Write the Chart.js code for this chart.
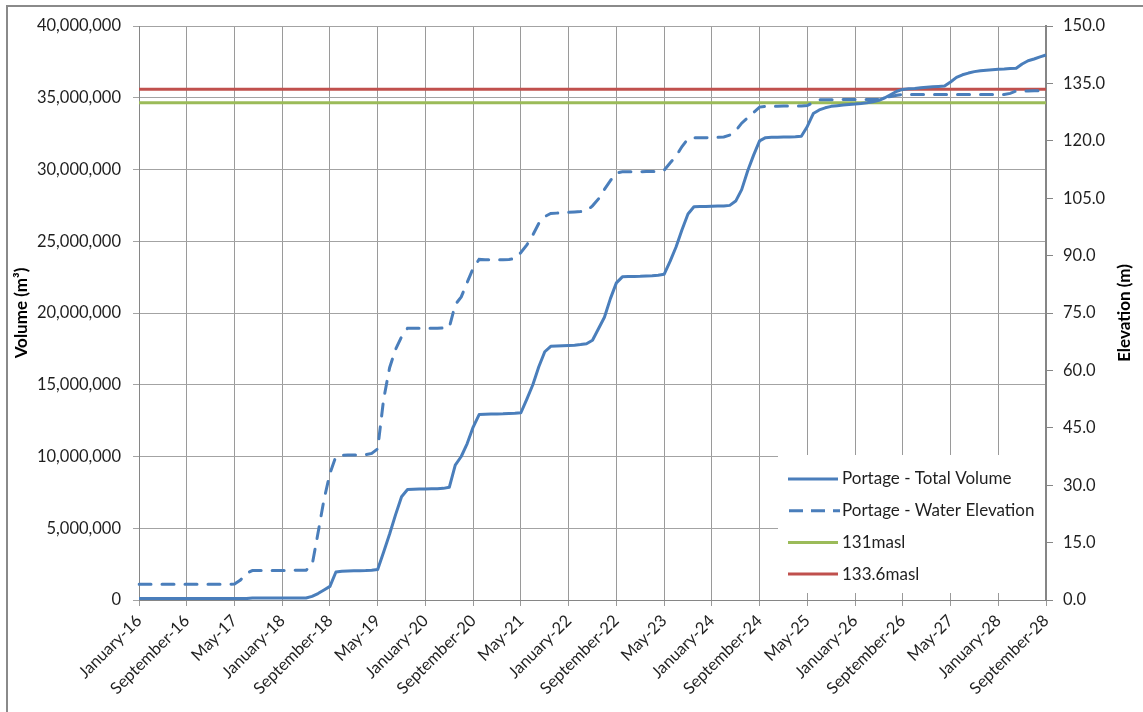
<!DOCTYPE html>
<html>
<head>
<meta charset="utf-8">
<title>Portage - Total Volume and Water Elevation</title>
<script src="https://cdn.jsdelivr.net/npm/chart.js@4/dist/chart.umd.min.js"></script>
<style>
  html, body { margin: 0; padding: 0; background: #ffffff; }
  canvas { display: block; }
</style>
</head>
<body>
<canvas id="chart" width="1143" height="712"></canvas>
<script>
// Monthly categories, January 2016 to September 2028
const monthNames = ['January', 'February', 'March', 'April', 'May', 'June',
  'July', 'August', 'September', 'October', 'November', 'December'];
const categories = [];
for (let yr = 16; yr <= 28; yr++) {
  for (let m = 0; m < 12; m++) {
    if (yr === 28 && m > 8) break;
    categories.push(monthNames[m] + '-' + yr);
  }
}

// Labelled months on the x axis (every eighth month)
const tickLabels = [
  'January-16', 'September-16', 'May-17', 'January-18', 'September-18',
  'May-19', 'January-20', 'September-20', 'May-21', 'January-22',
  'September-22', 'May-23', 'January-24', 'September-24', 'May-25',
  'January-26', 'September-26', 'May-27', 'January-28', 'September-28'
];

// Portage - Total Volume, millions of m³, one value per month
const totalVolumeMillions = [
  0.10, 0.10, 0.10, 0.10, 0.10, 0.10, 0.10, 0.10, 0.10, 0.10,
  0.10, 0.10, 0.10, 0.10, 0.10, 0.10, 0.10, 0.10, 0.10, 0.14,
  0.14, 0.14, 0.14, 0.14, 0.14, 0.14, 0.14, 0.14, 0.14, 0.25,
  0.45, 0.70, 0.95, 1.95, 2.00, 2.02, 2.03, 2.04, 2.05, 2.07,
  2.12, 3.35, 4.60, 5.95, 7.20, 7.70, 7.72, 7.73, 7.74, 7.75,
  7.76, 7.78, 7.85, 9.40, 10.00, 10.90, 12.05, 12.92, 12.95, 12.96,
  12.97, 12.98, 13.00, 13.02, 13.05, 14.00, 15.00, 16.25, 17.30, 17.68,
  17.70, 17.72, 17.74, 17.76, 17.80, 17.86, 18.10, 18.90, 19.70, 21.00,
  22.10, 22.52, 22.54, 22.55, 22.56, 22.58, 22.60, 22.63, 22.70, 23.60,
  24.60, 25.80, 26.90, 27.40, 27.42, 27.43, 27.44, 27.45, 27.46, 27.50,
  27.80, 28.60, 29.90, 31.00, 32.00, 32.22, 32.24, 32.25, 32.26, 32.27,
  32.28, 32.32, 33.00, 33.90, 34.15, 34.30, 34.40, 34.45, 34.50, 34.53,
  34.56, 34.60, 34.65, 34.72, 34.82, 35.00, 35.22, 35.45, 35.58, 35.62,
  35.65, 35.70, 35.73, 35.76, 35.79, 35.82, 36.10, 36.42, 36.60, 36.72,
  36.82, 36.88, 36.92, 36.95, 36.98, 37.00, 37.03, 37.05, 37.35, 37.58,
  37.70, 37.85, 37.98
];

// Portage - Water Elevation, m, one value per month
const waterElevation = [
  4.1, 4.1, 4.1, 4.1, 4.1, 4.1, 4.1, 4.1, 4.1, 4.1,
  4.1, 4.1, 4.1, 4.1, 4.1, 4.1, 4.2, 5.2, 7.0, 7.7,
  7.7, 7.7, 7.7, 7.7, 7.7, 7.7, 7.75, 7.8, 7.8, 9.0,
  17.5, 26.2, 33.1, 37.5, 37.8, 37.9, 37.9, 37.9, 38.0, 38.3,
  39.5, 52.5, 60.7, 65.5, 68.8, 71.0, 71.0, 71.0, 71.0, 71.0,
  71.0, 71.1, 71.2, 77.2, 79.2, 83.0, 86.7, 89.0, 88.9, 88.9,
  88.9, 88.9, 89.0, 89.2, 90.8, 92.8, 95.4, 98.4, 100.2, 101.0,
  101.1, 101.2, 101.3, 101.4, 101.5, 101.7, 103.0, 104.8, 107.3, 109.6,
  111.6, 111.9, 111.9, 111.9, 111.9, 112.0, 112.0, 112.0, 112.3, 114.2,
  116.0, 118.5, 120.5, 120.8, 120.8, 120.8, 120.9, 120.9, 121.0, 121.5,
  122.6, 124.6, 126.0, 127.4, 128.8, 129.0, 129.0, 129.0, 129.1, 129.1,
  129.1, 129.1, 129.2, 130.0, 130.7, 130.7, 130.7, 130.7, 130.8, 130.8,
  130.8, 130.8, 130.8, 130.8, 130.8, 131.3, 131.6, 131.9, 132.1, 132.1,
  132.1, 132.1, 132.1, 132.1, 132.1, 132.1, 132.1, 132.1, 132.1, 132.1,
  132.1, 132.1, 132.1, 132.1, 132.1, 132.1, 132.4, 133.0, 133.0, 133.0,
  133.1, 133.1, 133.1
];

// Storage volume (m³) at the two reference water levels
const volumeAt131masl = 34650000;
const volumeAt133_6masl = 35600000;

const volumeTicks = [0, 5000000, 10000000, 15000000, 20000000, 25000000, 30000000, 35000000, 40000000];
const elevationTicks = [0, 15, 30, 45, 60, 75, 90, 105, 120, 135, 150];

const volumeTitle = 'Volume (m³)';
const elevationTitle = 'Elevation (m)';

const BLUE = '#4a7ebb';
const GREEN = '#9bbb59';
const RED = '#c0504d';
const GRID = '#a3a3a3';
const AXIS = '#868686';
const TEXT = '#1f1f1f';
const FONT = 'Lato, "Open Sans", "DejaVu Sans", sans-serif';
const TICK_SIZE = 16.5;

const firstCat = categories[0];
const lastCat = categories[categories.length - 1];

// Outer frame of the chart
const framePlugin = {
  id: 'frame',
  beforeDraw(chart) {
    const ctx = chart.ctx;
    ctx.save();
    ctx.fillStyle = '#ffffff';
    ctx.fillRect(0, 0, chart.width, chart.height);
    ctx.strokeStyle = '#8a8a8a';
    ctx.lineWidth = 2;
    ctx.strokeRect(7, 6, chart.width + 20, chart.height + 20);
    ctx.restore();
  }
};

// Axis titles, both reading bottom to top
const axisTitles = {
  id: 'axisTitles',
  afterDraw(chart) {
    const ctx = chart.ctx;
    const area = chart.chartArea;
    const midY = (area.top + area.bottom) / 2;
    ctx.save();
    ctx.fillStyle = '#000000';
    ctx.font = 'bold 17px ' + FONT;
    ctx.textAlign = 'center';
    ctx.textBaseline = 'middle';
    [[22, volumeTitle], [1125, elevationTitle]].forEach(([x, text]) => {
      ctx.save();
      ctx.translate(x, midY);
      ctx.rotate(-Math.PI / 2);
      ctx.fillText(text, 0, 0);
      ctx.restore();
    });
    ctx.restore();
  }
};

// Legend box inside the lower right of the plot area
const insideLegend = {
  id: 'insideLegend',
  afterDraw(chart) {
    const ctx = chart.ctx;
    const area = chart.chartArea;
    const boxW = 267, boxH = 138;
    const left = area.right - 1 - boxW;
    const top = area.bottom - 7 - boxH;
    ctx.save();
    ctx.fillStyle = '#ffffff';
    ctx.fillRect(left, top, boxW, boxH);
    const rowGap = 31.7;
    const firstRow = top + 24;
    chart.data.datasets.forEach((ds, i) => {
      const y = firstRow + i * rowGap;
      ctx.beginPath();
      ctx.strokeStyle = ds.borderColor;
      ctx.lineWidth = 3;
      if (ds.borderDash && ds.borderDash.length) {
        ctx.setLineDash([14, 8]);
        ctx.lineCap = 'butt';
        ctx.moveTo(left + 11, y);
        ctx.lineTo(left + 62, y);
      } else {
        ctx.setLineDash([]);
        ctx.lineCap = 'butt';
        ctx.moveTo(left + 10, y);
        ctx.lineTo(left + 60, y);
      }
      ctx.stroke();
      ctx.setLineDash([]);
      ctx.fillStyle = TEXT;
      ctx.font = '17px ' + FONT;
      ctx.textBaseline = 'middle';
      ctx.textAlign = 'left';
      ctx.fillText(ds.label, left + 64, y);
    });
    ctx.restore();
  }
};

new Chart(document.getElementById('chart'), {
  type: 'line',
  data: {
    labels: categories,
    datasets: [
      {
        label: 'Portage - Total Volume',
        data: totalVolumeMillions.map(v => v * 1000000),
        yAxisID: 'y',
        borderColor: BLUE,
        borderWidth: 3,
        pointRadius: 0,
        tension: 0,
        borderJoinStyle: 'round',
        fill: false
      },
      {
        label: 'Portage - Water Elevation',
        data: waterElevation,
        yAxisID: 'y1',
        borderColor: BLUE,
        borderWidth: 3,
        borderDash: [12, 11],
        borderCapStyle: 'round',
        pointRadius: 0,
        tension: 0,
        fill: false
      },
      {
        label: '131masl',
        data: [{ x: firstCat, y: volumeAt131masl }, { x: lastCat, y: volumeAt131masl }],
        yAxisID: 'y',
        borderColor: GREEN,
        borderWidth: 3,
        pointRadius: 0,
        fill: false
      },
      {
        label: '133.6masl',
        data: [{ x: firstCat, y: volumeAt133_6masl }, { x: lastCat, y: volumeAt133_6masl }],
        yAxisID: 'y',
        borderColor: RED,
        borderWidth: 3,
        pointRadius: 0,
        fill: false
      }
    ]
  },
  options: {
    responsive: false,
    animation: false,
    devicePixelRatio: 1,
    layout: { padding: { top: 26, left: 0, right: 0, bottom: 0 } },
    plugins: {
      legend: { display: false },
      tooltip: { enabled: false },
      title: { display: false }
    },
    scales: {
      x: {
        type: 'category',
        offset: false,
        grid: { color: '#9a9a9a', lineWidth: 1, tickLength: 6, drawTicks: true },
        border: { color: AXIS, width: 1 },
        ticks: {
          autoSkip: false,
          maxRotation: 45,
          minRotation: 45,
          padding: 5,
          color: TEXT,
          font: { family: FONT, size: TICK_SIZE },
          callback: function (value, index) {
            const name = categories[index];
            return tickLabels.includes(name) ? name : null;
          }
        },
        afterFit(scale) { scale.height = 112; }
      },
      y: {
        position: 'left',
        min: 0,
        max: 40000000,
        afterBuildTicks(scale) { scale.ticks = volumeTicks.map(v => ({ value: v })); },
        grid: { color: GRID, lineWidth: 1, tickLength: 6 },
        border: { color: AXIS, width: 1 },
        ticks: {
          padding: 12,
          color: TEXT,
          font: { family: FONT, size: TICK_SIZE },
          callback: v => v.toLocaleString('en-US')
        },
        title: { display: false },
        afterFit(scale) { scale.width = 139; }
      },
      y1: {
        position: 'right',
        min: 0,
        max: 150,
        afterBuildTicks(scale) { scale.ticks = elevationTicks.map(v => ({ value: v })); },
        grid: { drawOnChartArea: false, color: AXIS, tickLength: 7 },
        border: { color: AXIS, width: 2 },
        ticks: {
          padding: 10,
          color: TEXT,
          font: { family: FONT, size: TICK_SIZE },
          callback: v => Number(v).toFixed(1)
        },
        title: { display: false },
        afterFit(scale) { scale.width = 97; }
      }
    }
  },
  plugins: [framePlugin, axisTitles, insideLegend]
});
</script>
</body>
</html>
